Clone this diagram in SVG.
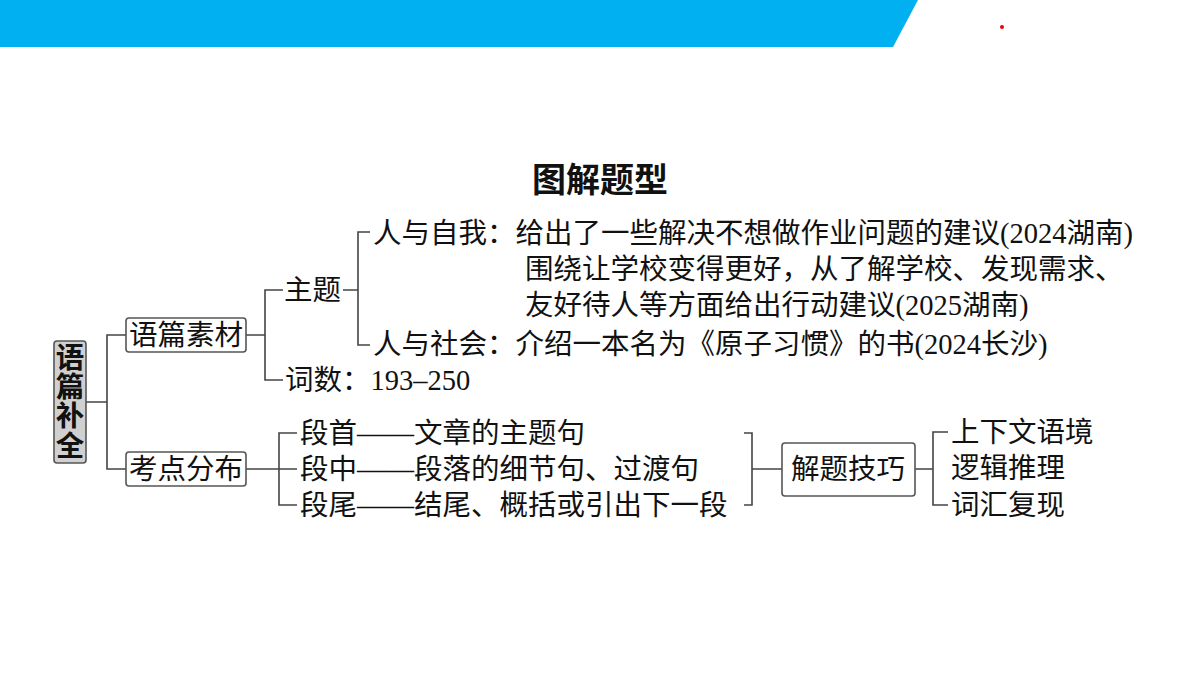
<svg xmlns="http://www.w3.org/2000/svg" width="1200" height="675" viewBox="0 0 1200 675">
<style>
text{font-family:"Liberation Serif","Noto Sans CJK SC",serif;font-size:28.5px;fill:#111;dominant-baseline:central}
.ln{fill:none;stroke:#444;stroke-width:1.6}
.box{fill:#fff;stroke:#555;stroke-width:1.6}
.title{font-size:34px;font-weight:bold;text-anchor:middle}
.mid{text-anchor:middle}
</style>
<rect width="1200" height="675" fill="#fff"/>
<polygon points="0,0 918,0 893,47 0,47" fill="#00B0F0"/>
<circle cx="1002" cy="27" r="2" fill="#e00"/>
<text class="title" x="600" y="180">图解题型</text>
<g id="connectors">
<path class="ln" d="M86,402H107M126,335H107V469H126"/>
<path class="ln" d="M246,335H265M283,290H265V380H283"/>
<path class="ln" d="M343,290H358M370,232H358V345H370"/>
<path class="ln" d="M246,469H297M297,433H279V505H297"/>
<path class="ln" d="M744,433H752V505H744M752,469H782"/>
<path class="ln" d="M915,469H933M948,432H933V505H948"/>
</g>
<g id="root">
<rect x="54" y="341" width="32" height="122" rx="3" fill="#d0d0d0" stroke="#555" stroke-width="1.6"/>
<text class="mid" x="70" y="358" font-weight="bold" font-size="26">语</text>
<text class="mid" x="70" y="387" font-weight="bold" font-size="26">篇</text>
<text class="mid" x="70" y="416" font-weight="bold" font-size="26">补</text>
<text class="mid" x="70" y="446" font-weight="bold" font-size="26">全</text>
</g>
<g id="yupian">
<rect class="box" x="126" y="318" width="120" height="34" rx="3"/>
<text class="mid" x="186" y="335">语篇素材</text>
</g>
<g id="kaodian">
<rect class="box" x="126" y="452" width="120" height="34" rx="3"/>
<text class="mid" x="186" y="469">考点分布</text>
</g>
<g id="zhuti"><text x="284" y="290">主题</text></g>
<g id="cishu"><text x="285" y="380">词数：193–250</text></g>
<g id="ziwo">
<text x="373" y="233">人与自我：给出了一些解决不想做作业问题的建议(2024湖南)</text>
<text x="525" y="269">围绕让学校变得更好，从了解学校、发现需求、</text>
<text x="525" y="305">友好待人等方面给出行动建议(2025湖南)</text>
</g>
<g id="shehui"><text x="373" y="344">人与社会：介绍一本名为《原子习惯》的书(2024长沙)</text></g>
<g id="duanshou"><text x="300" y="433">段首——文章的主题句</text></g>
<g id="duanzhong"><text x="300" y="469">段中——段落的细节句、过渡句</text></g>
<g id="duanwei"><text x="300" y="505">段尾——结尾、概括或引出下一段</text></g>
<g id="jieti">
<rect class="box" x="782" y="443" width="133" height="53" rx="3"/>
<text class="mid" x="848" y="469">解题技巧</text>
</g>
<g id="t1"><text x="951" y="432">上下文语境</text></g>
<g id="t2"><text x="951" y="468">逻辑推理</text></g>
<g id="t3"><text x="951" y="505">词汇复现</text></g>
</svg>
